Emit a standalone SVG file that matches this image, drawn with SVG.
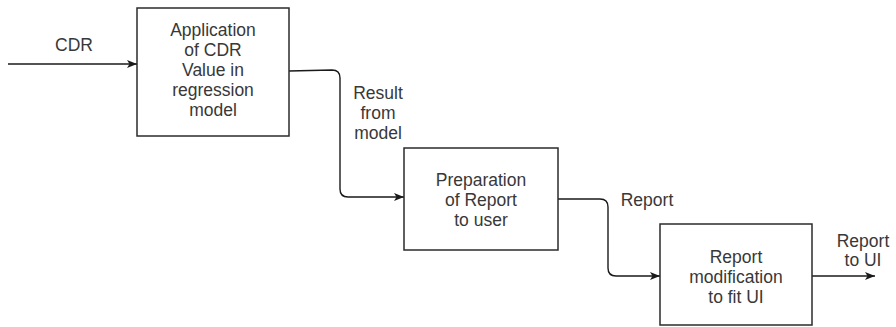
<svg xmlns="http://www.w3.org/2000/svg" width="896" height="327" viewBox="0 0 896 327">
  <defs>
    <style>
      .box { fill: #ffffff; stroke: #2b2b2b; stroke-width: 1.5; }
      .edge { fill: none; stroke: #1a1a1a; stroke-width: 1.4; }
      .lbl { font-family: "Liberation Sans", Arial, sans-serif; font-size: 17.5px; fill: #383838; text-anchor: middle; }
    </style>
    <marker id="arrow" viewBox="0 0 10 10" refX="10" refY="5" markerWidth="10" markerHeight="10" markerUnits="userSpaceOnUse" orient="auto">
      <path d="M0,1 L10,5 L0,9 L2.5,5 Z" fill="#1a1a1a"/>
    </marker>
  </defs>
  <rect width="896" height="327" fill="#ffffff"/>

  <g id="connectors">
    <path class="edge" d="M8,64 L137,64" marker-end="url(#arrow)"/>
    <path class="edge" d="M289,71 L332,70 Q340,70 340,78 L340,189 Q340,197 348,197 L404,197" marker-end="url(#arrow)"/>
    <path class="edge" d="M558,199 L600,199 Q608,199 608,207 L608,268 Q608,276 616,276 L660,276" marker-end="url(#arrow)"/>
    <path class="edge" d="M812,276 L875,276" marker-end="url(#arrow)"/>
  </g>

  <g id="label-cdr">
    <text class="lbl" x="74" y="51">CDR</text>
  </g>
  <g id="label-result">
    <text class="lbl" x="378" y="99">Result</text>
    <text class="lbl" x="378" y="119">from</text>
    <text class="lbl" x="378" y="139">model</text>
  </g>
  <g id="label-report">
    <text class="lbl" x="647" y="206">Report</text>
  </g>
  <g id="label-report-ui">
    <text class="lbl" x="863" y="247">Report</text>
    <text class="lbl" x="863" y="266">to UI</text>
  </g>

  <g id="node-regression">
    <rect class="box" x="137" y="8" width="152" height="128"/>
    <text class="lbl" x="213" y="36">Application</text>
    <text class="lbl" x="213" y="56">of CDR</text>
    <text class="lbl" x="213" y="76">Value in</text>
    <text class="lbl" x="213" y="96">regression</text>
    <text class="lbl" x="213" y="116">model</text>
  </g>

  <g id="node-preparation">
    <rect class="box" x="404" y="148" width="154" height="102"/>
    <text class="lbl" x="481" y="186">Preparation</text>
    <text class="lbl" x="481" y="206">of Report</text>
    <text class="lbl" x="481" y="226">to user</text>
  </g>

  <g id="node-modification">
    <rect class="box" x="660" y="224" width="152" height="101"/>
    <text class="lbl" x="736" y="263">Report</text>
    <text class="lbl" x="736" y="283">modification</text>
    <text class="lbl" x="736" y="303">to fit UI</text>
  </g>
</svg>
